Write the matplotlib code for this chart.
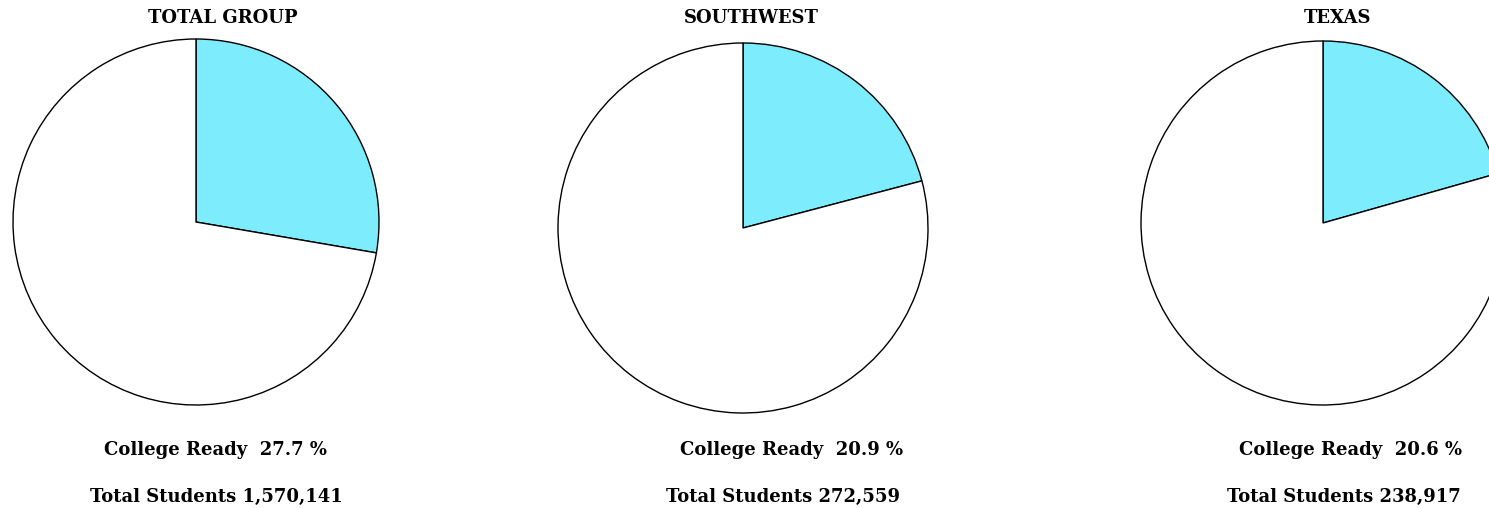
import matplotlib
matplotlib.use("Agg")
import matplotlib.pyplot as plt

# data
groups = ["TOTAL GROUP", "SOUTHWEST", "TEXAS"]
college_ready = [27.7, 20.9, 20.6]
total_students = [1570141, 272559, 238917]

W, H = 1489, 508
fig = plt.figure(figsize=(W / 100, H / 100), dpi=100)

# pie centre (px), radius (px), text centres (px)
centres = [(196, 222, 183), (743, 228, 185), (1323, 223, 182)]
title_x = [223, 751, 1338]
ready_x = [215, 792, 1351]
total_x = [216, 783, 1344]

font = dict(family="DejaVu Serif", weight="bold", color="black")

for i, g in enumerate(groups):
    cx, cy, r = centres[i]
    ax = fig.add_axes([(cx - r) / W, 1 - (cy + r) / H, 2 * r / W, 2 * r / H])
    pct = college_ready[i]
    wedges, _ = ax.pie([pct, 100 - pct], colors=["#7DEDFE", "white"], startangle=90,
                       counterclock=False, radius=1,
                       wedgeprops=dict(edgecolor="black", linewidth=1.0))
    for w in wedges:
        w.set_clip_on(False)
    ax.set_xlim(-1, 1)
    ax.set_ylim(-1, 1)
    ax.set_aspect("equal")
    ax.axis("off")

    fig.text(title_x[i] / W, 1 - 18 / H, g, ha="center", va="center", fontsize=13, **font)
    fig.text(ready_x[i] / W, 1 - 450 / H, f"College Ready  {pct} %",
             ha="center", va="center", fontsize=13, **font)
    fig.text(total_x[i] / W, 1 - 497 / H, f"Total Students {total_students[i]:,}",
             ha="center", va="center", fontsize=13, **font)

fig.savefig("out.png", dpi=100)
